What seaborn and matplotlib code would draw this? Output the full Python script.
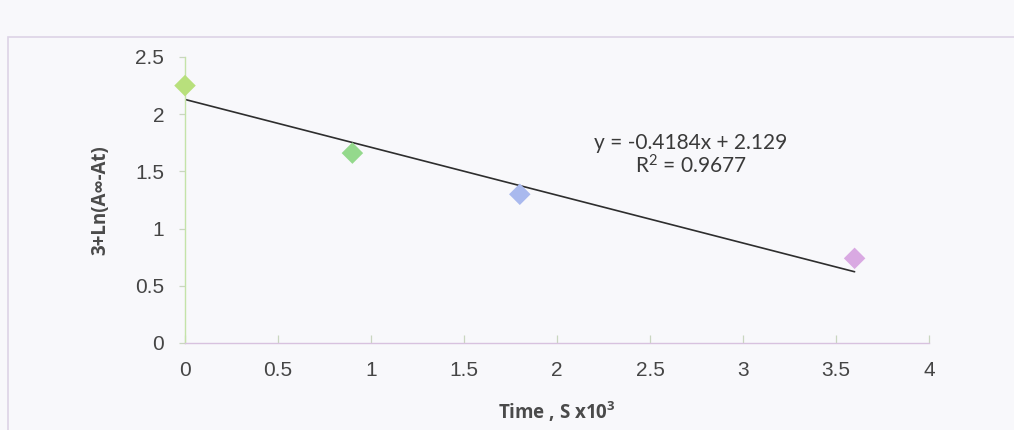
import numpy as np
import pandas as pd
import matplotlib
matplotlib.use("Agg")
import matplotlib.pyplot as plt
from matplotlib.patches import Rectangle
import seaborn as sns

# data
times = [0.0, 0.9, 1.8, 3.6]
values = [2.25, 1.66, 1.30, 0.74]
point_colors = ["#b8e07c", "#94d98c", "#a9b9ee", "#d9a9e2"]
slope = -0.4184
intercept = 2.129
r_squared = 0.9677
x_ticks = [0, 0.5, 1, 1.5, 2, 2.5, 3, 3.5, 4]
y_ticks = [0, 0.5, 1, 1.5, 2, 2.5]

sns.set_theme(style="white")
plt.rcParams["font.family"] = ["Liberation Sans", "DejaVu Sans"]
plt.rcParams["mathtext.fontset"] = "custom"
plt.rcParams["mathtext.rm"] = "Lato"
plt.rcParams["mathtext.bf"] = "Open Sans:bold"

df = pd.DataFrame({"t": times, "v": values, "pt": ["a", "b", "c", "d"]})

fig = plt.figure(figsize=(10.14, 4.3), dpi=100)
fig.patch.set_facecolor("#f8f8fb")
# outer chart border (scanned sheet)
fig.add_artist(Rectangle((8 / 1014, -0.01), 1.1, 1 - 37 / 430 + 0.01,
                         transform=fig.transFigure, fill=False,
                         edgecolor="#ddd3e6", linewidth=1.2))

ax = fig.add_axes([185 / 1014, 1 - 343 / 430, (929 - 185) / 1014, (343 - 57) / 430])
ax.set_facecolor("#f8f8fb")

# trend line
line_x = np.array([times[0], times[-1]])
ax.plot(line_x, intercept + slope * line_x, color="#2e2e2e", linewidth=1.2, zorder=2)

sns.scatterplot(data=df, x="t", y="v", hue="pt", palette=point_colors,
                marker="D", s=120, edgecolor="none", legend=False, ax=ax,
                zorder=3, clip_on=False)

ax.set_xlim(0, 4)
ax.set_ylim(0, 2.5)
ax.set_xticks(x_ticks)
ax.set_xticklabels(["{:g}".format(v) for v in x_ticks])
ax.set_yticks(y_ticks)
ax.set_yticklabels(["{:g}".format(v) for v in y_ticks])

for side in ["top", "right"]:
    ax.spines[side].set_visible(False)
ax.spines["left"].set_color("#c4e3a8")
ax.spines["bottom"].set_color("#d8c2df")
ax.spines["left"].set_linewidth(1.0)
ax.spines["bottom"].set_linewidth(1.0)

ax.tick_params(axis="x", direction="in", length=6, width=0.9, color="#c9d6c0",
               labelsize=15, labelcolor="#454545", pad=13)
ax.tick_params(axis="y", direction="out", length=4, width=0.9, color="#c9d6c0",
               labelsize=15, labelcolor="#454545", pad=11)
ax.tick_params(bottom=True, left=True)

label_font = ["Open Sans", "DejaVu Sans"]
ax.set_xlabel(r"Time , S x10$\mathbf{^{3}}$", fontsize=13.5, fontweight="bold",
              color="#4a4a4a", family=label_font, labelpad=14)
ax.set_ylabel("3+Ln(A\u221e-At)", fontsize=13.5, fontweight="bold", color="#4a4a4a",
              family=label_font, labelpad=18)

eq_text = "y = {:.4f}x + {:.3f}".format(slope, intercept)
ax.text(2.72, 1.75, eq_text, ha="center", va="center", fontsize=15,
        color="#3a3a3a", family=["Lato", "DejaVu Sans"])
ax.text(2.72, 1.55, r"R$\mathrm{^{2}}$ = " + "{:.4f}".format(r_squared), ha="center",
        va="center", fontsize=15, color="#3a3a3a", family=["Lato", "DejaVu Sans"])

fig.savefig("out.png", dpi=100, facecolor=fig.get_facecolor())
